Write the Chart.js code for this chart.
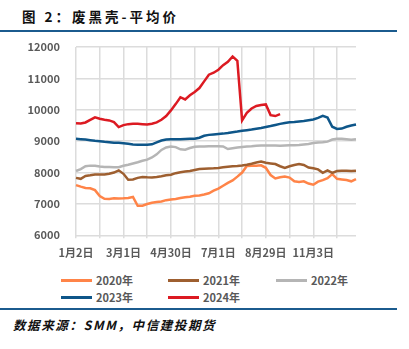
<!DOCTYPE html>
<html>
<head>
<meta charset="utf-8">
<script src="https://cdn.jsdelivr.net/npm/chart.js@4"></script>
<style>
  html, body { margin: 0; padding: 0; background: #fff; }
  body { width: 409px; height: 349px; position: relative; overflow: hidden;
         font-family: "Noto Sans CJK SC", "Noto Sans", sans-serif; }
  #title { position: absolute; left: 22px; top: 6px; font-size: 13.5px; font-weight: bold; color: #111; letter-spacing: 3px; }
  .rule { position: absolute; left: 0; width: 397px; height: 2px; background: #1b5b8e; }
  #wrap { position: absolute; left: 0; top: 0; width: 409px; height: 262px; }
  .leg { position: absolute; font-size: 11px; font-weight: bold; color: #595959; line-height: 14px; }
  .leg i { position: absolute; top: 6px; width: 31px; height: 3px; }
  #source { position: absolute; left: 13px; top: 315px; font-size: 12.5px; font-weight: bold; font-style: italic; color: #111; letter-spacing: 1.6px; }
</style>
</head>
<body>
<div id="title">图 2：废黑壳-平均价</div>
<div class="rule" style="top:30px"></div>
<div id="wrap"><canvas id="chart"></canvas></div>
<div id="legend"></div>
<div class="rule" style="top:308px"></div>
<div id="source">数据来源：SMM，中信建投期货</div>
<script>
// x positions: one point every 4 trading days, label every 10th point
const tickLabels = ['1月2日', '3月1日', '4月30日', '7月1日', '8月29日', '11月3日'];
const pointCount = 60;

const y2020 = [7600, 7550, 7510, 7500, 7440, 7250, 7165, 7160, 7180, 7175,
               7180, 7190, 7220, 6940, 6945, 6995, 7035, 7060, 7080, 7120,
               7140, 7160, 7190, 7210, 7230, 7260, 7270, 7300, 7340, 7420,
               7490, 7580, 7670, 7750, 7870, 8000, 8210, 8220, 8220, 8230,
               8150, 7920, 7810, 7850, 7870, 7840, 7720, 7700, 7720, 7650,
               7610, 7710, 7760, 7820, 7950, 7800, 7780, 7760, 7720, 7790];
const y2021 = [7830, 7800, 7890, 7910, 7935, 7935, 7940, 7960, 8000, 8070,
               7960, 7770, 7780, 7830, 7860, 7850, 7845, 7860, 7880, 7910,
               7930, 7980, 8010, 8030, 8050, 8080, 8110, 8120, 8130, 8135,
               8145, 8165, 8185, 8200, 8210, 8225, 8250, 8280, 8320, 8350,
               8310, 8290, 8270, 8200, 8150, 8200, 8240, 8270, 8240, 8160,
               8135, 8100, 7990, 8070, 7990, 8050, 8060, 8060, 8050, 8060];
const y2022 = [8050, 8110, 8200, 8220, 8215, 8190, 8180, 8175, 8165, 8170,
               8215, 8250, 8290, 8330, 8375, 8410, 8480, 8580, 8720, 8800,
               8830, 8810, 8740, 8730, 8780, 8820, 8830, 8830, 8835, 8840,
               8835, 8830, 8750, 8775, 8800, 8815, 8830, 8840, 8855, 8860,
               8860, 8860, 8860, 8855, 8865, 8870, 8870, 8875, 8895, 8910,
               8940, 8960, 8965, 8985, 9050, 9075, 9075, 9060, 9045, 9060];
const y2023 = [9074, 9064, 9053, 9032, 9011, 9000, 8979, 8968, 8947, 8947,
               8936, 8915, 8894, 8883, 8885, 8883, 8900, 8960, 9020, 9050,
               9060, 9064, 9064, 9070, 9074, 9074, 9110, 9170, 9200, 9212,
               9225, 9240, 9260, 9285, 9305, 9330, 9350, 9370, 9395, 9420,
               9450, 9480, 9515, 9550, 9580, 9600, 9610, 9625, 9640, 9665,
               9690, 9740, 9805, 9750, 9460, 9390, 9400, 9460, 9500, 9530];
const y2024 = [9574, 9564, 9596, 9680, 9760, 9713, 9680, 9660, 9606, 9447,
               9510, 9542, 9553, 9553, 9542, 9532, 9553, 9596, 9680, 9798,
               9980, 10180, 10400, 10330, 10460, 10564, 10692, 10904, 11117, 11180,
               11277, 11420, 11530, 11700, 11560, 9660, 9900, 10040, 10120, 10150,
               10170, 9830, 9800, 9860];

const seriesNames = ['2020年', '2021年', '2022年', '2023年', '2024年'];
const seriesColors = ['#ff8448', '#9e5f30', '#b5b5b5', '#0e5689', '#dc1a22'];
const seriesValues = [y2020, y2021, y2022, y2023, y2024];

const labels = Array.from({ length: pointCount }, (_, i) =>
    i % 10 === 0 && tickLabels[i / 10] ? tickLabels[i / 10] : '');

const tickFont = { family: '"Noto Sans CJK SC", "Noto Sans", sans-serif', size: 11, weight: 'bold' };

new Chart(document.getElementById('chart'), {
    type: 'line',
    data: {
        labels: labels,
        datasets: seriesNames.map((name, k) => ({
            label: name,
            data: seriesValues[k],
            borderColor: seriesColors[k],
            borderWidth: 2.5,
            pointRadius: 0,
            tension: 0,
            order: 4 - k
        }))
    },
    options: {
        responsive: true,
        maintainAspectRatio: false,
        animation: false,
        layout: { padding: { top: 47, right: 53, left: 0, bottom: 0 } },
        plugins: { legend: { display: false }, tooltip: { enabled: false } },
        scales: {
            x: {
                grid: {
                    color: ctx => ctx.index % 5 === 0 ? '#dcdcdc' : 'transparent',
                    lineWidth: 1.5,
                    tickLength: 3
                },
                border: { display: false },
                ticks: {
                    autoSkip: false,
                    maxRotation: 0,
                    padding: 8,
                    color: '#595959',
                    font: tickFont
                },
                afterFit: s => { s.height = 26.7; }
            },
            y: {
                min: 6000,
                max: 12000,
                grid: { color: '#dcdcdc', lineWidth: 1.5, drawTicks: false },
                border: { display: false },
                ticks: {
                    stepSize: 1000,
                    padding: 16,
                    color: '#595959',
                    font: tickFont,
                    callback: v => String(v)
                },
                afterFit: s => { s.width = 76; }
            }
        }
    }
});

// legend below the plot, laid out in three columns
const legendPos = [[61, 273], [168, 273], [276, 273], [61, 290], [168, 290]];
const legend = document.getElementById('legend');
seriesNames.forEach((name, k) => {
    const el = document.createElement('div');
    el.className = 'leg';
    el.style.left = legendPos[k][0] + 'px';
    el.style.top = legendPos[k][1] + 'px';
    el.style.paddingLeft = '35px';
    el.innerHTML = '<i style="left:0;background:' + seriesColors[k] + '"></i>' + name;
    legend.appendChild(el);
});
</script>
</body>
</html>
